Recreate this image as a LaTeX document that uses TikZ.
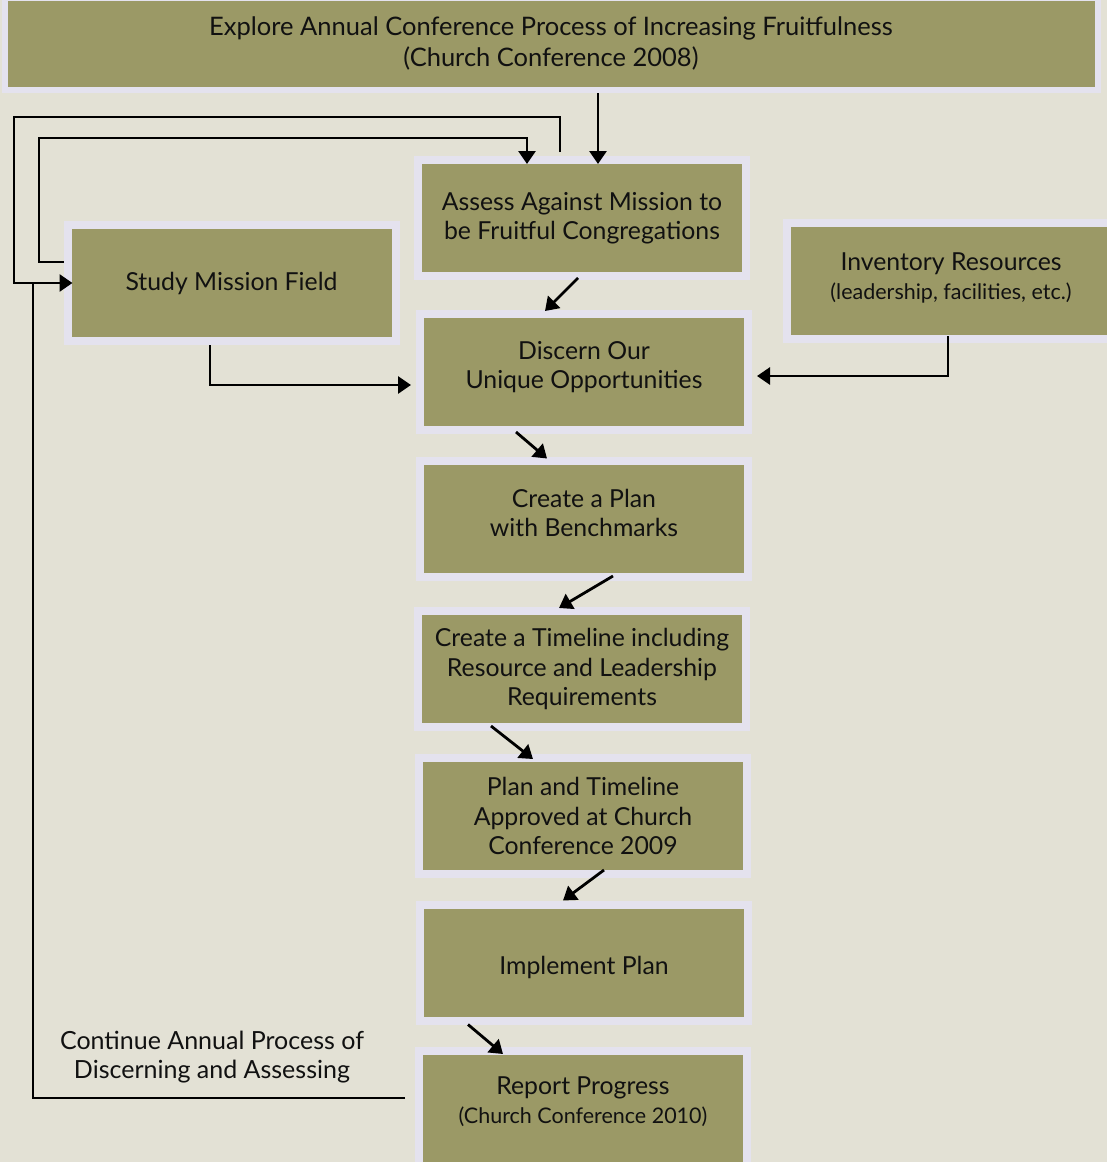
\documentclass[tikz,border=0pt]{standalone}
\usepackage{fontspec}
\setmainfont{Lato}
\usetikzlibrary{arrows.meta}
\definecolor{bgcol}{HTML}{E3E1D5}
\definecolor{olive}{HTML}{9B9966}
\definecolor{lav}{HTML}{E4E2EE}
\definecolor{ink}{HTML}{111111}
\newcommand{\upbox}[2]{\raisebox{#1}[\height][\depth]{\begin{tabular}{@{}c@{}}#2\end{tabular}}}
\newcommand{\subtxt}{\fontsize{21.5}{29.5}\selectfont}
\tikzset{
  box/.style={draw=lav, line width=8pt, fill=olive, minimum width=328pt, minimum height=116pt,
    align=center, text=ink, font=\fontsize{24.8}{29.5}\selectfont, inner sep=0pt},
  arr/.style={draw=black, line width=2.8pt, -{Triangle[length=13pt,width=17pt]}},
  ln/.style={draw=black, line width=2.8pt},
}
\begin{document}
\begin{tikzpicture}[x=1pt,y=-1pt]
\fill[bgcol] (0,0) rectangle (1107,1162);
\useasboundingbox (0,0) rectangle (1107,1162);

\node[box, line width=6pt, minimum width=1093pt, minimum height=92pt, font=\fontsize{25.5}{31}\selectfont] (top) at (551,44)
  {\upbox{-1pt}{Explore Annual Conference Process of Increasing Fruitfulness\\(Church Conference 2008)}};
\node[box] (assess) at (582,218) {Assess Against Mission to\\be Fruitful Congregations};
\node[box] (study) at (231.5,283) {Study Mission Field};
\node[box] (inventory) at (951,281) {\upbox{2pt}{Inventory Resources\\{\subtxt(leadership, facilities, etc.)}}};
\node[box] (discern) at (584,372) {\upbox{4pt}{Discern Our\\Unique Opportunities}};
\node[box] (plan) at (584,519) {\upbox{3pt}{Create a Plan\\with Benchmarks}};
\node[box] (timeline) at (582,669) {Create a Timeline including\\Resource and Leadership\\Requirements};
\node[box] (approved) at (583,816) {Plan and Timeline\\Approved at Church\\Conference 2009};
\node[box] (implement) at (584,962.5) {\upbox{-6pt}{Implement Plan}};
\node[box] (report) at (583,1109) {\upbox{6pt}{Report Progress\\{\subtxt(Church Conference 2010)}}};

\node[align=center, text=ink, font=\fontsize{25}{29.5}\selectfont] (cont) at (212,1057)
  {Continue Annual Process of\\Discerning and Assessing};

% top -> assess
\coordinate (a1) at ([xshift=16pt,yshift=-8pt]assess.north);
\draw[arr] (top.south -| a1) -- (a1);

% outer loop assess -> study
\coordinate (c1) at ([xshift=-22pt,yshift=4pt]assess.north);
\coordinate (lo) at (14,117);
\coordinate (c4) at ([xshift=9pt]study.west);
\draw[arr] (c1) |- (lo) |- (c4);

% inner loop study -> assess
\coordinate (c2) at ([yshift=21pt]study.west);
\coordinate (li) at (39,138);
\coordinate (c3) at ([xshift=-55pt,yshift=-8pt]assess.north);
\draw[arr] (c2) -| (li) -| (c3);

% report -> study
\coordinate (c5) at ([xshift=-10pt,yshift=11pt]report.west);
\coordinate (lb) at (33,284);
\draw[ln] (c5) -| (lb);

% study -> discern
\coordinate (c6) at ([xshift=-5pt,yshift=-13pt]discern.west);
\draw[arr] ([xshift=-21.5pt]study.south) |- (c6);

% inventory -> discern
\coordinate (c7) at ([xshift=-3pt,yshift=7pt]inventory.south);
\coordinate (c8) at ([xshift=5pt,yshift=-4pt]discern.east);
\draw[arr] (c7) |- (c8);

% diagonal chain
\draw[arr] ([xshift=-4pt,yshift=2pt]assess.south) -- ([xshift=-39pt,yshift=-1pt]discern.north);
\draw[arr] ([xshift=-68pt,yshift=2pt]discern.south) -- ([xshift=-37pt,yshift=-1.5pt]plan.north);
\draw[arr] ([xshift=29pt,yshift=5pt]plan.south) -- ([xshift=-23pt,yshift=-1pt]timeline.north);
\draw[arr] ([xshift=-91pt,yshift=5pt]timeline.south) -- ([xshift=-50pt,yshift=-5pt]approved.north);
\draw[arr] ([xshift=21pt,yshift=8pt]approved.south) -- ([xshift=-21pt]implement.north);
\draw[arr] ([xshift=-116pt]implement.south) -- ([xshift=-80pt,yshift=-7pt]report.north);
\end{tikzpicture}
\end{document}
